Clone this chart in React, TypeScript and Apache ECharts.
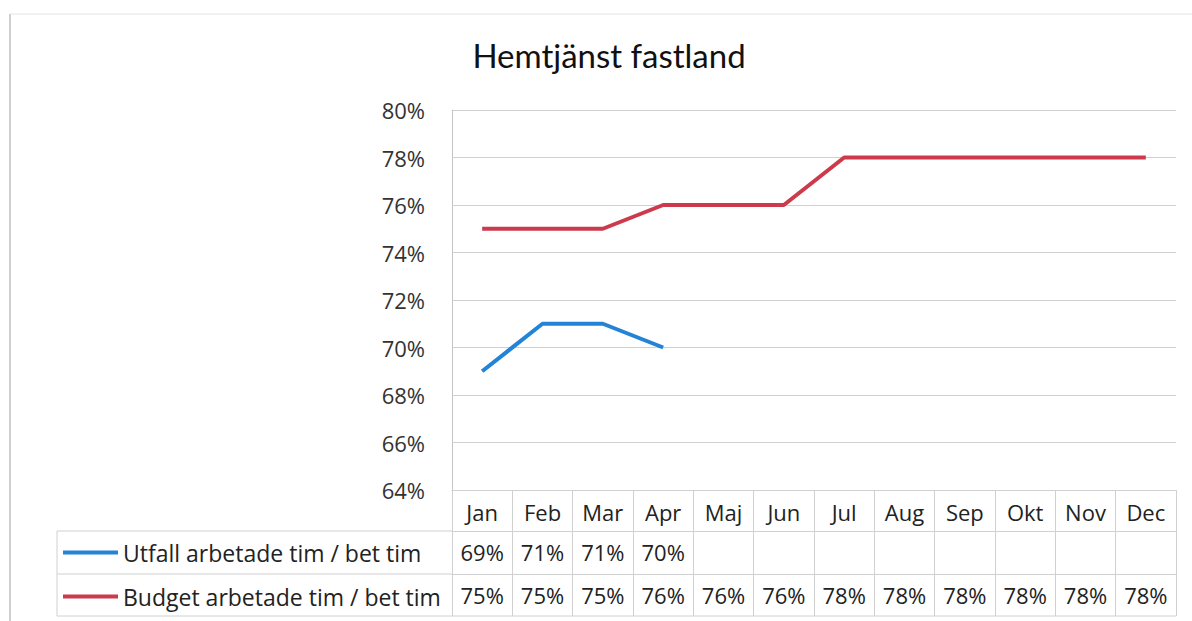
import React, { useEffect, useRef } from "react";
import * as echarts from "echarts";

const months = ["Jan", "Feb", "Mar", "Apr", "Maj", "Jun", "Jul", "Aug", "Sep", "Okt", "Nov", "Dec"];
const utfall: (number | null)[] = [69, 71, 71, 70, null, null, null, null, null, null, null, null];
const budget: number[] = [75, 75, 75, 76, 76, 76, 78, 78, 78, 78, 78, 78];
const yTicks = [64, 66, 68, 70, 72, 74, 76, 78, 80];
const seriesNames = ["Utfall arbetade tim / bet tim", "Budget arbetade tim / bet tim"];
const title = "Hemtjänst fastland";

const BLUE = "#2383d6";
const RED = "#cc3a4c";
const GRID = "#d0d0d0";
const FONT = "Open Sans";

export default function App() {
  const ref = useRef<HTMLDivElement>(null);
  useEffect(() => {
    const chart = echarts.init(ref.current!, undefined, { renderer: "svg" });
    const L = 452, R = 1176, T = 110, B = 490;
    const r1 = 531, r2 = 574, r3 = 616;
    const tableLabel = { fontFamily: FONT, fontSize: 22, color: "#222" };
    const lineStyle = { color: GRID, width: 1 };
    chart.setOption({
      animation: false,
      backgroundColor: "#fff",
      title: {
        text: title,
        left: 609,
        textAlign: "center",
        top: 38,
        padding: 0,
        textStyle: { fontFamily: "Lato", fontSize: 33, fontWeight: "normal", color: "#111" },
      },
      legend: {
        orient: "vertical",
        left: 63,
        top: 541,
        padding: 0,
        itemGap: 21,
        itemWidth: 55,
        itemHeight: 4,
        icon: "rect",
        textStyle: { fontFamily: FONT, fontSize: 23, color: "#222", lineHeight: 22 },
        data: seriesNames,
      },
      grid: { left: L, right: 1192 - R, top: T, bottom: 621 - B, containLabel: false },
      xAxis: [
        {
          type: "category",
          data: months,
          boundaryGap: true,
          position: "bottom",
          axisLine: { show: true, lineStyle },
          axisTick: { show: true, interval: 0, length: r1 - B, lineStyle },
          axisLabel: { ...tableLabel, margin: 11, interval: 0 },
        },
        {
          type: "category",
          data: months,
          boundaryGap: true,
          position: "bottom",
          offset: r1 - B,
          axisLine: { show: true, lineStyle },
          axisTick: { show: true, interval: 0, length: r2 - r1, lineStyle },
          axisLabel: {
            ...tableLabel,
            margin: 10,
            interval: 0,
            formatter: (_v: string, i: number) => (utfall[i] != null ? utfall[i] + "%" : ""),
          },
        },
        {
          type: "category",
          data: months,
          boundaryGap: true,
          position: "bottom",
          offset: r2 - B,
          axisLine: { show: true, lineStyle },
          axisTick: { show: true, interval: 0, length: r3 - r2, lineStyle },
          axisLabel: {
            ...tableLabel,
            margin: 10,
            interval: 0,
            formatter: (_v: string, i: number) => budget[i] + "%",
          },
        },
      ],
      yAxis: {
        type: "value",
        min: yTicks[0],
        max: yTicks[yTicks.length - 1],
        interval: 2,
        axisLine: { show: true, lineStyle: { color: "#c4c4c4" } },
        axisTick: { show: false },
        splitLine: { show: true, lineStyle: { color: GRID, width: 1 } },
        axisLabel: { fontFamily: FONT, fontSize: 22, color: "#333", margin: 27, formatter: "{value}%" },
      },
      series: [
        {
          name: seriesNames[0],
          type: "line",
          data: utfall,
          xAxisIndex: 0,
          symbol: "none",
          lineStyle: { color: BLUE, width: 4 },
          itemStyle: { color: BLUE },
        },
        {
          name: seriesNames[1],
          type: "line",
          data: budget,
          xAxisIndex: 0,
          symbol: "none",
          lineStyle: { color: RED, width: 4 },
          itemStyle: { color: RED },
        },
      ],
      graphic: [
        { type: "line", shape: { x1: 57, y1: r1, x2: L, y2: r1 }, style: { stroke: GRID, lineWidth: 1 } },
        { type: "line", shape: { x1: 57, y1: r2, x2: L, y2: r2 }, style: { stroke: GRID, lineWidth: 1 } },
        { type: "line", shape: { x1: 57, y1: r3, x2: R, y2: r3 }, style: { stroke: GRID, lineWidth: 1 } },
        { type: "line", shape: { x1: 57, y1: r1, x2: 57, y2: r3 }, style: { stroke: GRID, lineWidth: 1 } },
        { type: "line", shape: { x1: 10, y1: 14, x2: 1192, y2: 14 }, style: { stroke: "#e4e4e4", lineWidth: 1 } },
        { type: "line", shape: { x1: 10, y1: 14, x2: 10, y2: 621 }, style: { stroke: "#cfcfcf", lineWidth: 2 } },
      ],
    });
    return () => chart.dispose();
  }, []);
  return (
    <div
      ref={ref}
      style={{ position: "absolute", left: 0, top: 0, width: 1192, height: 621, background: "#fff" }}
    />
  );
}
